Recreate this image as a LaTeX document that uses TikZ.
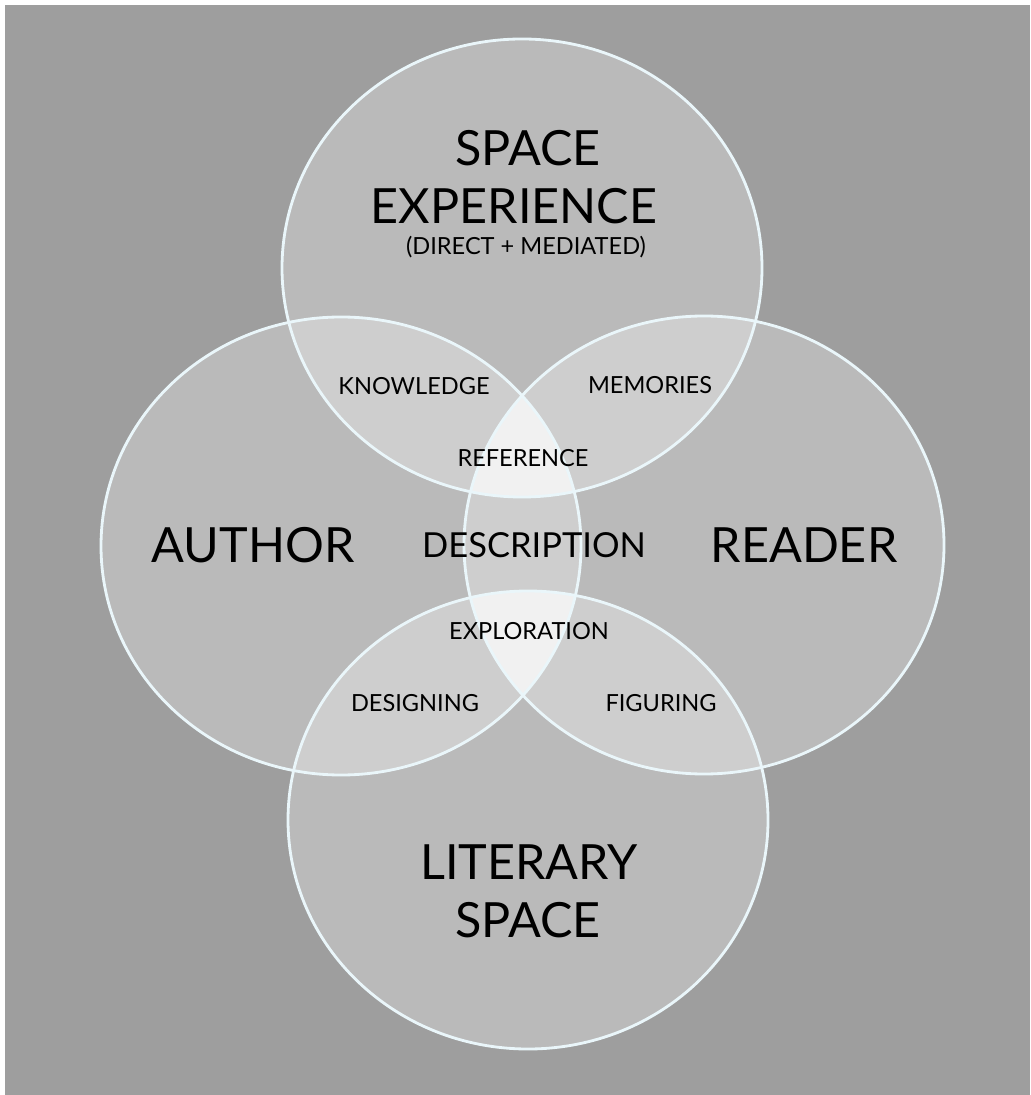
\documentclass[tikz,border=0pt]{standalone}
\usepackage{fontspec}
\setmainfont{Lato}
\definecolor{backgray}{HTML}{9E9E9E}
\definecolor{ringline}{HTML}{EAF6FA}

\begin{document}
\begin{tikzpicture}[x=0.01cm,y=-0.01cm,
    disc/.style={fill=white, fill opacity=.29},
    lens/.style={fill=white, fill opacity=.6},
    ring/.style={draw=ringline, line width=.8pt},
    big/.style={font=\fontsize{13.8}{16}\selectfont},
    middle/.style={font=\fontsize{9.8}{11}\selectfont},
    small/.style={font=\fontsize{6.7}{8}\selectfont}]
  \useasboundingbox (0,0) rectangle (1030,1095);
  \fill[backgray] (5,5) rectangle (1030,1095);

  % the four discs: space, author, reader, literary space
  \foreach \cx/\cy in {522/268, 341/546, 704/545, 528/820}
    \fill[disc] (\cx,\cy) ellipse [x radius=240, y radius=229];

  % where three discs meet
  \begin{scope}
    \clip (341,546) ellipse [x radius=240, y radius=229];
    \clip (704,545) ellipse [x radius=240, y radius=229];
    \fill[lens] (522,268) ellipse [x radius=240, y radius=229];
    \fill[lens] (528,820) ellipse [x radius=240, y radius=229];
  \end{scope}

  \foreach \cx/\cy in {522/268, 341/546, 704/545, 528/820}
    \draw[ring] (\cx,\cy) ellipse [x radius=240, y radius=229];

  % labels
  \node[big] (space) at (528,148) {SPACE};
  \node[big] (experience) at (514,206) {EXPERIENCE};
  \node[small] (mediated) at (526,247) {(DIRECT + MEDIATED)};
  \node[small] (knowledge) at (414,386) {KNOWLEDGE};
  \node[small] (memories) at (650,385) {MEMORIES};
  \node[small] (reference) at (523,458) {REFERENCE};
  \node[big] (author) at (253,545) {AUTHOR};
  \node[middle] (description) at (534,545) {DESCRIPTION};
  \node[big] (reader) at (804,545) {READER};
  \node[small] (exploration) at (529,631) {EXPLORATION};
  \node[small] (designing) at (415,703) {DESIGNING};
  \node[small] (figuring) at (661,703) {FIGURING};
  \node[big] (literary) at (529,862) {LITERARY};
  \node[big] (litspace) at (528,920) {SPACE};
\end{tikzpicture}
\end{document}
